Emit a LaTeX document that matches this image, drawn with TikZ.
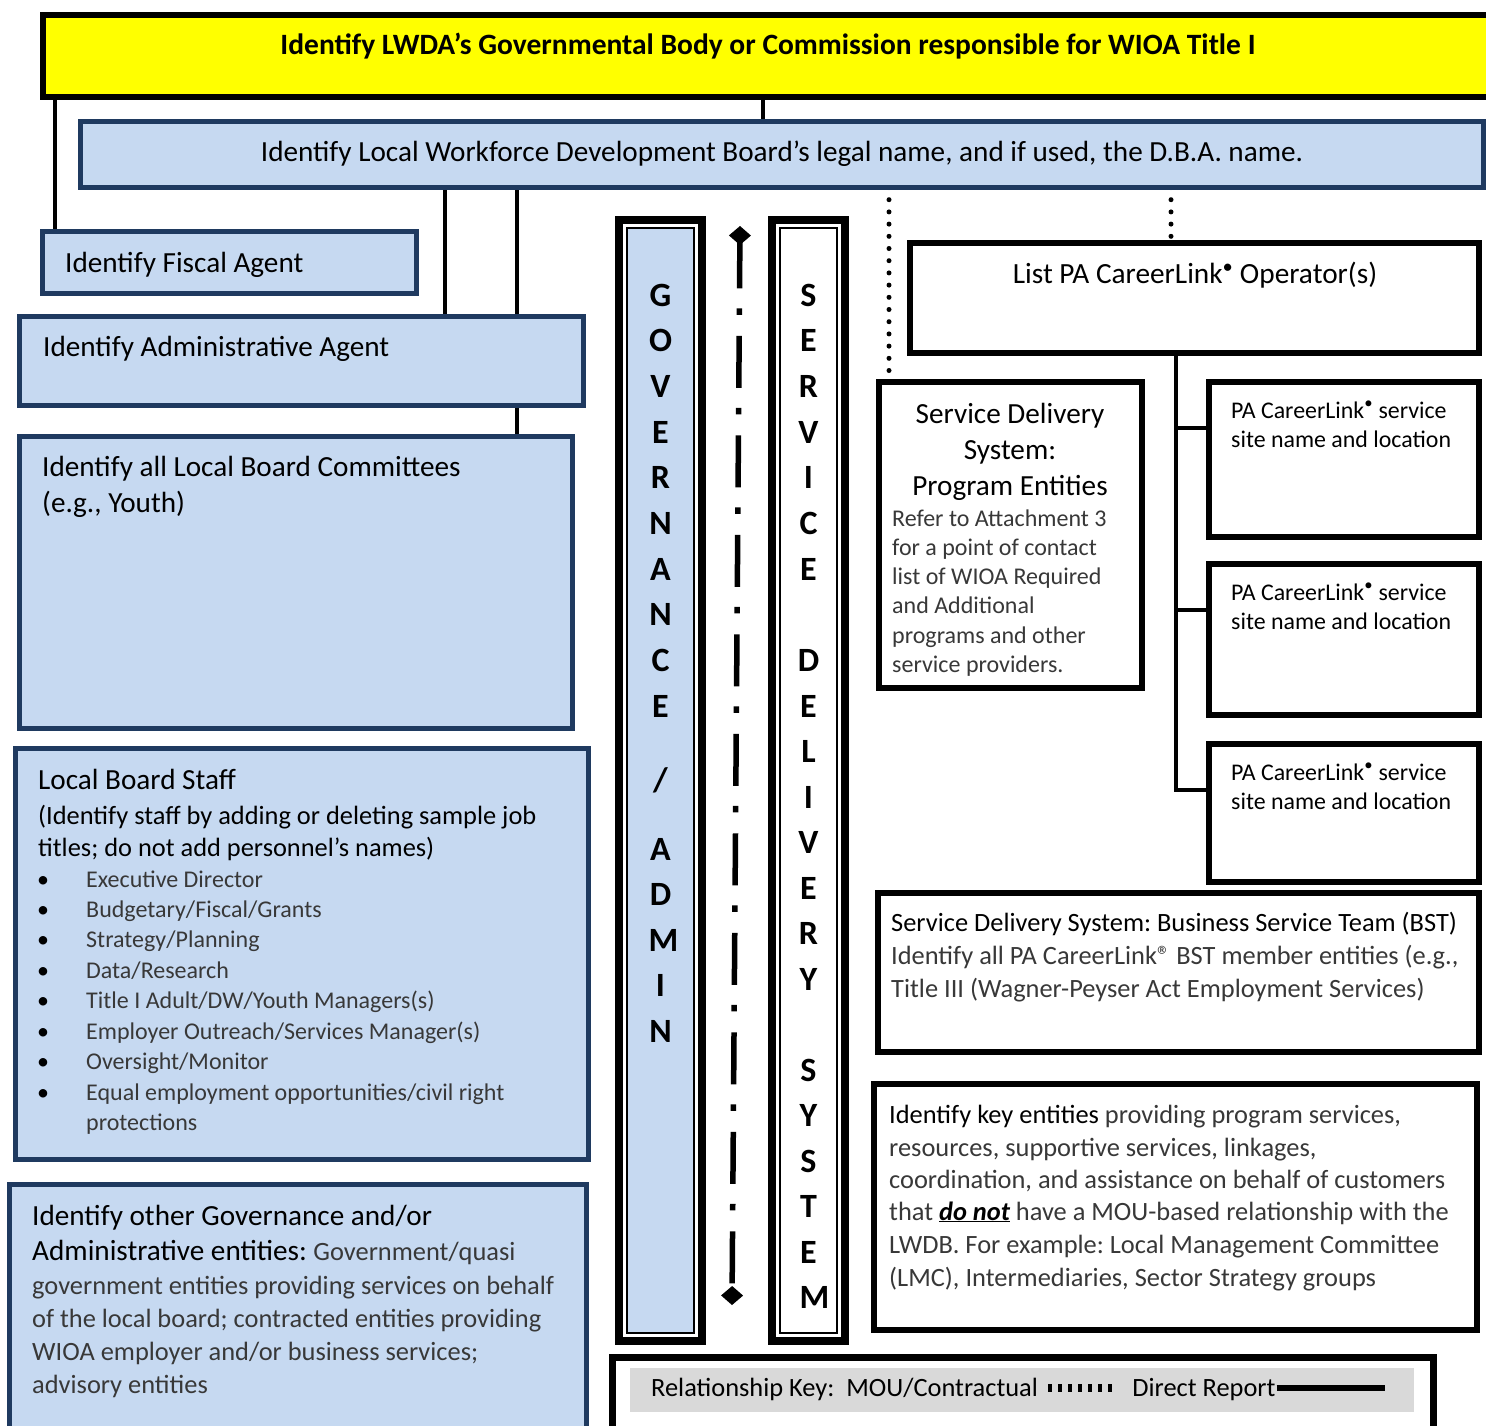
\documentclass[tikz,border=0pt]{standalone}
\usepackage{fontspec}
\setmainfont{Carlito}
\usetikzlibrary{arrows.meta,calc}
\pgfdeclarelayer{bg}
\pgfsetlayers{bg,main}
\definecolor{lblue}{HTML}{C6D9F1}
\definecolor{navy}{HTML}{1F3A60}
\definecolor{ltxt}{HTML}{383838}
\definecolor{kgray}{HTML}{D9D9D9}
\definecolor{yel}{HTML}{FFFF00}
\newcommand\myszT{\fontsize{29.5pt}{34pt}\selectfont\bfseries}
\newcommand\myszL{\fontsize{29.2pt}{34pt}\selectfont}
\newcommand\myszA{\fontsize{29.2pt}{34pt}\selectfont}
\newcommand\myszS{\fontsize{26.4pt}{32pt}\selectfont}
\newcommand\myszB{\fontsize{24pt}{29pt}\selectfont\color{ltxt}}
\newcommand\myszC{\fontsize{26.4pt}{30pt}\selectfont\color{ltxt}}
\newcommand\myszD{\fontsize{26.4pt}{30pt}\selectfont}
\newcommand\myszE{\fontsize{23.9pt}{28pt}\selectfont}
\newcommand\myszP{\fontsize{29.3pt}{34pt}\selectfont}
\newcommand\mydot{\textsuperscript{•}}
\frenchspacing
\begin{document}
\begin{tikzpicture}[x=1pt,y=-1pt,
  nbox/.style={draw=navy, fill=lblue, line width=5pt, inner sep=0pt, outer sep=0pt, anchor=north west},
  kbox/.style={draw=black, fill=white, line width=6pt, inner sep=0pt, outer sep=0pt, anchor=north west},
  conn/.style={line width=4.5pt},
  dotc/.style={line width=5pt, line cap=round, dash pattern=on 0pt off 12.2pt},
  ln/.style={anchor=base west, inner sep=0pt},
  lc/.style={anchor=base, inner sep=0pt},
  colL/.style={anchor=center, inner sep=0pt, font=\fontsize{34pt}{40pt}\selectfont\bfseries},
  colOut/.style={draw=black, line width=8pt, inner sep=0pt, outer sep=0pt, anchor=north west},
  colIn/.style={draw=black, line width=2pt, inner sep=0pt, outer sep=0pt, anchor=north west},
  bul/.style={anchor=base, inner sep=0pt, font=\myszB\color{black}},
]
\useasboundingbox (0,0) rectangle (1486,1425);

% ---------- top boxes
\node[kbox, fill=yel, minimum width=1457pt, minimum height=82pt] (yellow) at (43,15) {};
\node[lc, font=\myszT] (yt) at (768,54) {Identify LWDA’s Governmental Body or Commission responsible for WIOA Title I};
\node[nbox, minimum width=1403pt, minimum height=66pt] (lwdb) at (80.5,121.5) {};
\node[lc, font=\myszL] (lt) at (782,161) {Identify Local Workforce Development Board’s legal name, and if used, the D.B.A. name.};

% ---------- left column
\node[nbox, minimum width=374pt, minimum height=62pt] (fiscal) at (42.5,231.5) {};
\node[ln, font=\myszA] (ft) at (65,272) {Identify Fiscal Agent};
\node[nbox, minimum width=564pt, minimum height=89pt] (admin) at (19.5,316.5) {};
\node[ln, font=\myszA] (at) at (43,356) {Identify Administrative Agent};
\node[nbox, minimum width=553pt, minimum height=292pt] (comm) at (19.5,436.5) {};
\node[ln, font=\myszA] (ct1) at (42,476) {Identify all Local Board Committees};
\node[ln, font=\myszA] (ct2) at (42,512) {(e.g., Youth)};

\node[nbox, minimum width=573pt, minimum height=411pt] (staff) at (15.5,748.5) {};
\node[ln, font=\myszA] (st1) at (38,789) {Local Board Staff};
\node[ln, font=\myszS] (st2) at (38,824) {(Identify staff by adding or deleting sample job};
\node[ln, font=\myszS] (st3) at (38,856) {titles; do not add personnel’s names)};
\node[ln, font=\myszB] (sb1) at (86,887) {Executive Director};
\node[ln, font=\myszB] (sb2) at (86,917) {Budgetary/Fiscal/Grants};
\node[ln, font=\myszB] (sb3) at (86,947) {Strategy/Planning};
\node[ln, font=\myszB] (sb4) at (86,978) {Data/Research};
\node[ln, font=\myszB] (sb5) at (86,1008) {Title I Adult/DW/Youth Managers(s)};
\node[ln, font=\myszB] (sb6) at (86,1039) {Employer Outreach/Services Manager(s)};
\node[ln, font=\myszB] (sb7) at (86,1069) {Oversight/Monitor};
\node[ln, font=\myszB] (sb8) at (86,1100) {Equal employment opportunities/civil right};
\node[ln, font=\myszB] (sb9) at (86,1130) {protections};
\foreach \yy [count=\i] in {887,917,947,978,1008,1039,1069,1100}{
  \node[bul] (sbb\i) at (43,\yy) {•};
}

\node[nbox, minimum width=577pt, minimum height=290pt] (other) at (9.5,1184.5) {};
\node[ln, font=\myszA] (ot1) at (32,1225) {Identify other Governance and/or};
\node[ln, font=\myszA] (ot2) at (32,1260) {Administrative entities: {\myszC Government/quasi}};
\node[ln, font=\myszC] (ot3) at (32,1294) {government entities providing services on behalf};
\node[ln, font=\myszC] (ot4) at (32,1327) {of the local board; contracted entities providing};
\node[ln, font=\myszC] (ot5) at (32,1360) {WIOA employer and/or business services;};
\node[ln, font=\myszC] (ot6) at (32,1393) {advisory entities};

% ---------- middle columns
\node[colOut, minimum width=83pt, minimum height=1121pt] (gov) at (619,220) {};
\node[colIn, fill=lblue, minimum width=67pt, minimum height=1105pt] (govin) at (627,228) {};
\foreach \ch/\yy/\xx [count=\i] in {G/295/660.5,O/340/660.5,V/386/660.5,E/432/660.5,R/477/660.5,N/523/660.5,A/569/660.5,N/614/660.5,C/660/660.5,E/706/660.5,A/849/660.5,D/894/660.5,M/940/663.5,I/985/660.5,N/1031/660.5}{
  \node[colL] (gl\i) at (\xx,\yy) {\ch};
}
\node[colL] (glslash) at (660.5,780) {/};

\node[colOut, fill=white, minimum width=73pt, minimum height=1121pt] (svc) at (772,220) {};
\node[colIn, minimum width=57pt, minimum height=1105pt] (svcin) at (780,228) {};
\foreach \ch/\yy [count=\i] in {S/295,E/340,R/386,V/432,I/477,C/523,E/569,D/660,E/706,L/751,I/797,V/842,E/888,R/933,Y/979,S/1070,Y/1115,S/1161,T/1206,E/1252}{
  \node[colL] (sl\i) at (808.5,\yy) {\ch};
}
\node[colL] (slM) at (814.5,1297) {M};

\coordinate (arrT) at (740,226);
\coordinate (arrB) at (732,1305);
\draw[line width=5.5pt, dash pattern=on 52pt off 20pt on 6.5pt off 21pt, dash phase=5pt,
  {Diamond[length=19pt,width=22pt]}-{Diamond[length=19pt,width=22pt]}] (arrT) -- (arrB);

% ---------- right side
\node[kbox, minimum width=569pt, minimum height=110pt] (listpa) at (910,243) {};
\node[lc, font=\myszP] (lpt) at (1195,283) {List PA CareerLink\mydot{} Operator(s)};

\node[kbox, minimum width=270pt, minimum height=155pt] (site1) at (1209,382) {};
\node[kbox, minimum width=270pt, minimum height=151pt] (site2) at (1209,564) {};
\node[kbox, minimum width=270pt, minimum height=138pt] (site3) at (1209,744) {};
\foreach \s/\yy in {1/418,2/600,3/780}{
  \node[ln, font=\myszE] (s\s a) at (1231,\yy) {PA CareerLink\mydot{} service};
  \node[ln, font=\myszE] (s\s b) at (1231,\yy+29) {site name and location};
}

\node[kbox, minimum width=263pt, minimum height=306pt] (prog) at (879,382) {};
\node[lc, font=\myszA] (pt1) at (1010,423) {Service Delivery};
\node[lc, font=\myszA] (pt2) at (1010,459) {System:};
\node[lc, font=\myszA] (pt3) at (1010,495) {Program Entities};
\node[ln, font=\myszB] (pb1) at (892,526) {Refer to Attachment 3};
\node[ln, font=\myszB] (pb2) at (892,555) {for a point of contact};
\node[ln, font=\myszB] (pb3) at (892,584) {list of WIOA Required};
\node[ln, font=\myszB] (pb4) at (892,613) {and Additional};
\node[ln, font=\myszB] (pb5) at (892,643) {programs and other};
\node[ln, font=\myszB] (pb6) at (892,672) {service providers.};

\node[kbox, minimum width=601pt, minimum height=159pt] (bst) at (878,893) {};
\node[ln, font=\myszD] (bt1) at (891,931) {Service Delivery System: Business Service Team (BST)};
\node[ln, font=\myszC] (bt2) at (891,964) {Identify all PA CareerLink® BST member entities (e.g.,};
\node[ln, font=\myszC] (bt3) at (891,997) {Title III (Wagner-Peyser Act Employment Services)};

\node[kbox, minimum width=603pt, minimum height=246pt] (keyent) at (874,1084) {};
\node[ln, font=\myszC] (kt1) at (889,1123) {{\color{black}Identify key entities} providing program services,};
\node[ln, font=\myszC] (kt2) at (889,1156) {resources, supportive services, linkages,};
\node[ln, font=\myszC] (kt3) at (889,1188) {coordination, and assistance on behalf of customers};
\node[ln, font=\myszC] (kt4) at (889,1220) {that {\color{black}\underline{\bfseries\itshape do not}} have a MOU-based relationship with the};
\node[ln, font=\myszC] (kt5) at (889,1253) {LWDB. For example: Local Management Committee};
\node[ln, font=\myszC] (kt6) at (889,1286) {(LMC), Intermediaries, Sector Strategy groups};

% ---------- relationship key
\node[kbox, line width=7pt, minimum width=821pt, minimum height=90pt] (relkey) at (612,1357) {};
\node[anchor=north west, fill=kgray, inner sep=0pt, outer sep=0pt, minimum width=784pt, minimum height=44pt] (relgray) at (630,1368) {};
\node[ln, font=\myszC\color{black}] (rk) at (651,1396) {Relationship Key:\ \ MOU/Contractual};
\coordinate (kd1) at ([xshift=10pt,yshift=8pt]rk.base east);
\coordinate (kd2) at ([xshift=70pt]kd1);
\draw[line width=8pt, dash pattern=on 3.5pt off 6.5pt] (kd1) -- (kd2);
\node[ln, font=\myszC\color{black}] (dr) at ([xshift=14pt,yshift=-8pt]kd2) {Direct Report};
\coordinate (kd3) at ([xshift=1pt,yshift=8pt]dr.base east);
\coordinate (kd4) at ([xshift=108pt]kd3);
\draw[line width=6pt] (kd3) -- (kd4);

% ---------- connectors
\begin{pgfonlayer}{bg}
\draw[conn] (55,0 |- fiscal.north) -- (55,0 |- yellow.south);
\draw[conn] (763,0 |- lwdb.north) -- (763,0 |- yellow.south);
\draw[conn] (445,0 |- lwdb.south) -- (445,0 |- admin.north);
\draw[conn] (517,0 |- lwdb.south) -- (517,0 |- comm.north);
\coordinate (pdot) at ([yshift=10pt]prog.north);
\draw[dotc] (889,0 |- lwdb.south) -- (889,0 |- pdot);
\draw[dotc] (1171,0 |- lwdb.south) -- (1171,0 |- listpa.north);
\coordinate (b1) at ([yshift=-46pt]site1.north west);
\coordinate (b2) at ([yshift=-46pt]site2.north west);
\coordinate (b3) at ([yshift=-46pt]site3.north west);
\draw[conn] (1176,0 |- listpa.south) -- (1176,0 |- b3) -- (b3);
\draw[conn] (1176,0 |- b1) -- (b1);
\draw[conn] (1176,0 |- b2) -- (b2);
\end{pgfonlayer}
\end{tikzpicture}
\end{document}
